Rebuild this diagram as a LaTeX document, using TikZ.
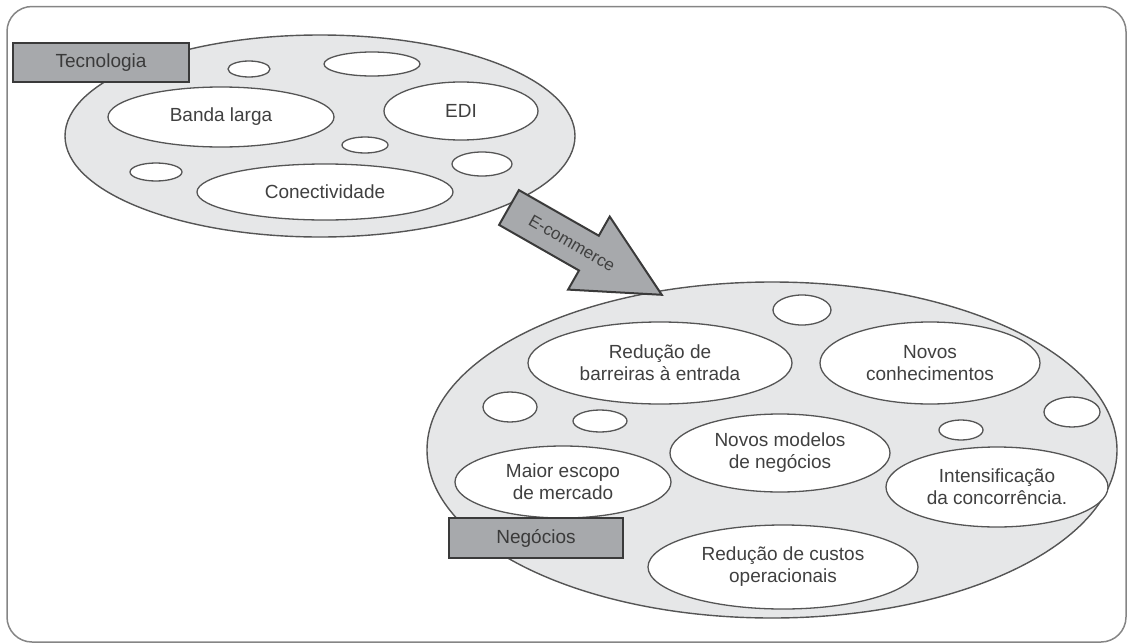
\documentclass[tikz,border=0pt]{standalone}
\usepackage{fontspec}
\setmainfont{Liberation Sans}
\usetikzlibrary{shapes.geometric}
\definecolor{bigfill}{HTML}{E6E7E8}
\definecolor{labfill}{HTML}{A7A9AC}
\definecolor{edgec}{HTML}{555555}
\definecolor{darkc}{HTML}{3A3A3A}
\definecolor{txtc}{HTML}{404040}
\definecolor{framec}{HTML}{858585}
\begin{document}
\begin{tikzpicture}[x=1pt,y=-1pt,
  bigell/.style={ellipse, draw=edgec, line width=1.4pt, fill=bigfill, inner sep=0pt},
  ell/.style={ellipse, draw=edgec, line width=1.3pt, fill=white, inner sep=0pt,
    align=center, text=txtc, font=\fontsize{19}{22}\selectfont},
  labelbox/.style={rectangle, draw=darkc, line width=2.4pt, fill=labfill, inner sep=0pt,
    text=darkc, font=\fontsize{19}{22}\selectfont},
  blockarrow/.style={draw=darkc, line width=2pt, fill=labfill, line join=miter},
  framebox/.style={draw=framec, line width=1.5pt, rounded corners=25pt}]
\useasboundingbox (0,0) rectangle (1128,643);
\draw[framebox] (7,6.5) rectangle (1126,642);

% Tecnologia
\node[bigell, minimum width=510pt, minimum height=202pt] (tec) at (320,136) {};
\node[ell, minimum width=42pt, minimum height=16pt] (t1) at (249,69) {};
\node[ell, minimum width=96pt, minimum height=24pt] (t2) at (372,64) {};
\node[ell, minimum width=226pt, minimum height=60pt] (banda) at (221,117) {Banda larga};
\node[ell, minimum width=154pt, minimum height=58pt] (edi) at (461,111) {EDI};
\node[ell, minimum width=46pt, minimum height=16pt] (t3) at (365,145) {};
\node[ell, minimum width=52pt, minimum height=18pt] (t4) at (156,172) {};
\node[ell, minimum width=256pt, minimum height=56pt] (conect) at (325,192) {Conectividade};
\node[ell, minimum width=60pt, minimum height=24pt] (t5) at (482,164) {};
\node[labelbox, minimum width=176pt, minimum height=39pt] (teclab) at (101,62.5) {Tecnologia};

% Negocios
\node[bigell, minimum width=690pt, minimum height=336pt] (neg) at (772,450) {};
\node[ell, minimum width=58pt, minimum height=30pt] (n1) at (802,310) {};
\node[ell, minimum width=264pt, minimum height=82pt] (barr) at (660,363) {Redução de\\barreiras à entrada};
\node[ell, minimum width=220pt, minimum height=82pt] (conh) at (930,363) {Novos\\conhecimentos};
\node[ell, minimum width=54pt, minimum height=30pt] (n2) at (510,407) {};
\node[ell, minimum width=54pt, minimum height=22pt] (n3) at (600,421) {};
\node[ell, minimum width=220pt, minimum height=78pt] (mod) at (780,453) {Novos modelos\\de negócios};
\node[ell, minimum width=44pt, minimum height=20pt] (n4) at (961,430) {};
\node[ell, minimum width=56pt, minimum height=30pt] (n5) at (1072,412) {};
\node[ell, minimum width=216pt, minimum height=72pt] (maior) at (563,482) {Maior escopo\\de mercado};
\node[ell, minimum width=222pt, minimum height=80pt] (intens) at (997,487) {Intensificação\\da concorrência.};
\node[ell, minimum width=270pt, minimum height=84pt] (custos) at (783,567) {Redução de custos\\operacionais};
\node[labelbox, minimum width=174pt, minimum height=40pt] (neglab) at (536,538) {Negócios};

% E-commerce arrow
\draw[blockarrow] (518.9,190.1) -- (598.8,235.7) -- (609.7,216.6) -- (661.8,294.8)
  -- (568.1,289.6) -- (579.0,270.5) -- (499.1,224.9) -- cycle;
\node[rotate=-29.8, text=txtc, font=\fontsize{17}{20}\selectfont, inner sep=0pt] (ecom) at (572,243) {E-commerce};
\end{tikzpicture}
\end{document}
